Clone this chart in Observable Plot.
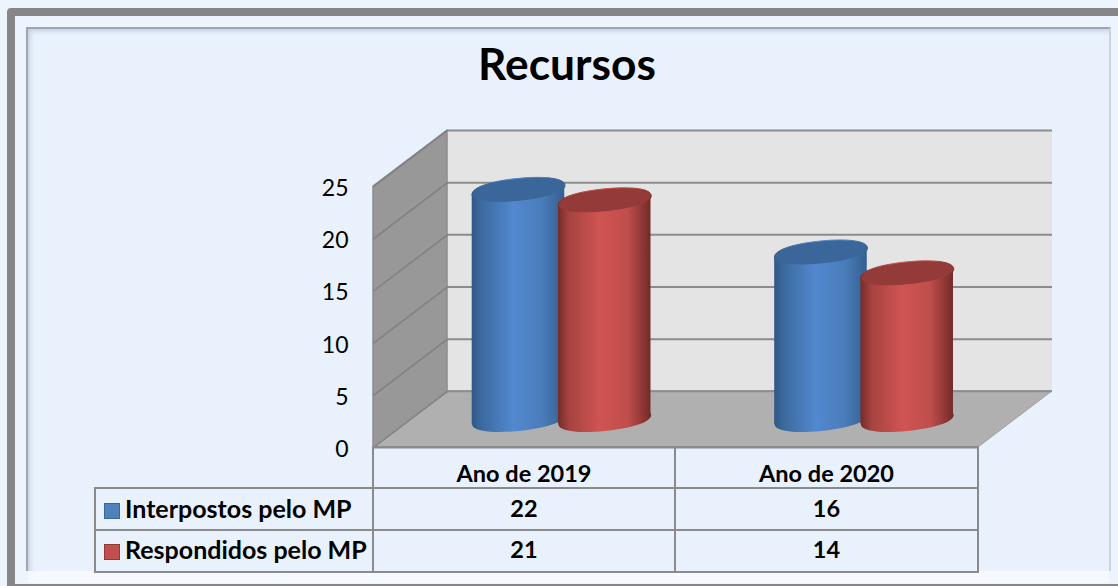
<!DOCTYPE html>
<html>
<head>
<meta charset="utf-8">
<script src="https://cdn.jsdelivr.net/npm/d3@7"></script>
<script src="https://cdn.jsdelivr.net/npm/@observablehq/plot@0.6"></script>
<style>
html,body{margin:0;padding:0;background:#edf4fe;overflow:hidden;}
#page{position:relative;width:1118px;height:586px;overflow:hidden;font-family:Lato,sans-serif;color:#000;}
#frame{position:absolute;left:7px;top:8px;width:1130px;height:568px;border:8px solid #868686;border-radius:4px;background:#eef4fe;}
#panel{position:absolute;left:26px;top:27px;width:1081px;height:542px;background:#e9f1fd;border-left:2px solid #9ba6b6;border-top:2px solid #9ba6b6;border-right:2px solid #c9d3e2;box-shadow:inset 5px 5px 5px -3px #c3cddc;}
#band{position:absolute;left:28px;top:571px;width:1081px;height:12px;background:#f6f9ff;}
#content{position:absolute;left:0;top:0;width:1118px;}
#title{height:110px;text-align:center;font-weight:700;font-size:44.3px;line-height:44px;box-sizing:border-box;padding-top:41px;padding-left:16px;}
#chart svg{display:block;overflow:visible;}
#table{position:absolute;left:94px;top:446px;border-collapse:collapse;table-layout:fixed;width:883px;font-weight:700;font-size:23.5px;}
#table td{border:2px solid #8b8b8b;padding:0;text-align:center;box-sizing:border-box;white-space:nowrap;}
#table tr:nth-of-type(1) td{padding-top:10px;}
#table tr:nth-of-type(1) td:first-child{border-top:hidden;border-left:hidden;}
#table tr:nth-of-type(2) td{padding-bottom:2px;}
#table tr:nth-of-type(3) td{padding-bottom:4px;}
#table tr td:first-child{text-align:left;padding-left:8px;font-size:25px;}
.key{display:inline-block;width:16px;height:16px;box-sizing:border-box;border:1px solid;vertical-align:-1px;margin-right:5px;}
</style>
</head>
<body>
<div id="page">
  <div id="frame"></div>
  <div id="panel"></div>
  <div id="band"></div>
  <div id="content">
    <div id="title"></div>
    <div id="chart"></div>
  </div>
  <table id="table"></table>
</div>
<script>
const titleText = "Recursos";
const categories = ["Ano de 2019", "Ano de 2020"];
const seriesNames = ["Interpostos pelo MP", "Respondidos pelo MP"];
const interpostos = [22, 16];
const respondidos = [21, 14];
const valueTicks = [0, 5, 10, 15, 20, 25];
const seriesValues = [interpostos, respondidos];
const keyColors = [["#4f81bd", "#3a6595"], ["#c0504d", "#8f3a38"]];
const capColors = ["#3b6699", "#943a38"];

// Projection of the box, in data units (categories along x, values along y)
const depthX = 0.2446, depthY = 5.38, slotOffset = [0.357, 0.642], barW = 0.306, tilt = 0.43;
const cx = (i, s) => i + slotOffset[s] + depthX / 2;
const bars = seriesValues.flatMap((vals, s) => vals.map((v, i) => ({s, i, v, x: cx(i, s)})));

const ellipse = {
  draw(ctx, size) {
    const a = Math.sqrt(size / Math.PI), b = 11.5, m = a > 0 ? 4.5 / a : 0, k = 0.6;
    const P = (x, y) => [x, y - m * x];
    ctx.moveTo(...P(a, 0));
    ctx.bezierCurveTo(...P(a, k * b), ...P(k * a, b), ...P(0, b));
    ctx.bezierCurveTo(...P(-k * a, b), ...P(-a, k * b), ...P(-a, 0));
    ctx.bezierCurveTo(...P(-a, -k * b), ...P(-k * a, -b), ...P(0, -b));
    ctx.bezierCurveTo(...P(k * a, -b), ...P(a, -k * b), ...P(a, 0));
    ctx.closePath();
  }
};

function defs() {
  const d = d3.create("svg:defs");
  const stops = {
    gradBlue: [[0, "#2f5784"], [0.1, "#3c6a9f"], [0.45, "#5288cf"], [0.75, "#4a7dbb"], [1, "#34608f"]],
    gradRed: [[0, "#742c2a"], [0.12, "#a64340"], [0.45, "#cf5452"], [0.75, "#c04e4b"], [1, "#732a28"]]
  };
  for (const id in stops) {
    const g = d.append("linearGradient").attr("id", id).attr("x1", 0).attr("x2", 1).attr("y1", 0).attr("y2", 0);
    for (const [o, c] of stops[id]) g.append("stop").attr("offset", o).attr("stop-color", c);
  }
  return d.node();
}

const maxValue = 25;
const grid = "#8c8c8c";
const gradient = ["url(#gradBlue)", "url(#gradRed)"];

const cylinder = (b) => {
  const seg = [
    {x: b.x - barW / 2, y1: depthY / 2 - tilt, y2: b.v + depthY / 2 - tilt},
    {x: b.x + barW / 2, y1: depthY / 2 + tilt, y2: b.v + depthY / 2 + tilt}
  ];
  return [
    Plot.dot([b], {x: "x", y: depthY / 2, r: 46.5, symbol: ellipse, fill: gradient[b.s], stroke: "none"}),
    Plot.areaY(seg, {x: "x", y1: "y1", y2: "y2", fill: gradient[b.s]}),
    Plot.dot([b], {x: "x", y: (d) => d.v + depthY / 2, r: 46.5, symbol: ellipse, fill: capColors[b.s], stroke: gradient[b.s], strokeWidth: 1})
  ];
};

const plotNode = Plot.plot({
  width: 1118,
  height: 350,
  marginLeft: 373,
  marginRight: 66,
  marginTop: 20,
  marginBottom: 13,
  style: {background: "transparent", fontFamily: "Lato, sans-serif", overflow: "visible", color: "#000"},
  x: {domain: [0, 2 + depthX], axis: null},
  y: {domain: [0, maxValue + depthY]},
  marks: [
    defs,
    // back wall
    Plot.areaY([{x: depthX}, {x: 2 + depthX}], {x: "x", y1: depthY, y2: maxValue + depthY, fill: "#e4e4e4"}),
    // left wall
    Plot.areaY([{x: 0, y1: 0, y2: maxValue}, {x: depthX, y1: depthY, y2: maxValue + depthY}],
      {x: "x", y1: "y1", y2: "y2", fill: "#989898", stroke: grid, strokeWidth: 1.5}),
    // floor
    Plot.areaY([{x: 0, y1: 0, y2: 0}, {x: depthX, y1: 0, y2: depthY}, {x: 2, y1: 0, y2: depthY}, {x: 2 + depthX, y1: depthY, y2: depthY}],
      {x: "x", y1: "y1", y2: "y2", fill: "#b0b0b0", stroke: "#a0a0a0", strokeWidth: 1}),
    // gridlines
    Plot.ruleY(valueTicks, {y: (d) => d + depthY, x1: depthX, x2: 2 + depthX, stroke: grid, strokeWidth: 2}),
    Plot.link(valueTicks, {x1: 0, y1: (d) => d, x2: depthX, y2: (d) => d + depthY, stroke: "#808080", strokeWidth: 1.5}),
    Plot.ruleY([0], {x1: 0, x2: 2, stroke: grid, strokeWidth: 2}),
    ...bars.flatMap(cylinder),
    Plot.axisY({ticks: valueTicks, anchor: "left", tickSize: 0, tickPadding: 25, fontSize: 23, dy: 2, label: null})
  ]
});
document.getElementById("chart").appendChild(plotNode);
document.getElementById("title").textContent = titleText;

// data table under the plot
const tableSel = d3.select("#table");
const cg = tableSel.append("colgroup");
[278, 302, 303].forEach((w) => cg.append("col").style("width", w + "px"));
const head = tableSel.append("tr").style("height", "41px");
head.append("td");
categories.forEach((c) => head.append("td").text(c));
seriesNames.forEach((name, s) => {
  const row = tableSel.append("tr").style("height", "42px");
  const first = row.append("td");
  first.append("span").attr("class", "key").style("background", keyColors[s][0]).style("border-color", keyColors[s][1]);
  first.append("span").text(name);
  seriesValues[s].forEach((v) => row.append("td").text(v));
});
</script>
</body>
</html>
